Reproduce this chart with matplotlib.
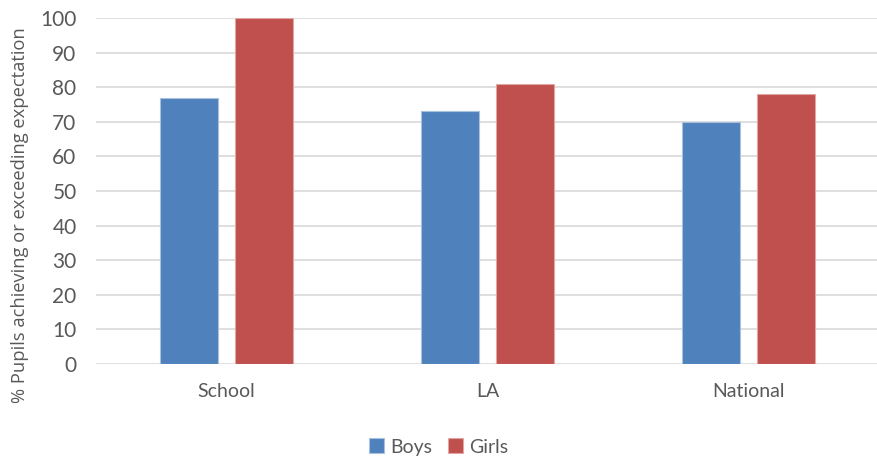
import matplotlib.pyplot as plt
import numpy as np

# Dades del gràfic
categories = ["School", "LA", "National"]
boys = [77, 73, 70]
girls = [100, 81, 78]
yticks = list(range(0, 101, 10))

plt.rcParams["font.family"] = ["Lato", "DejaVu Sans"]

fig = plt.figure(figsize=(8.77, 4.59), dpi=100)
ax = fig.add_axes([96 / 877, 1 - 364 / 459, 783 / 877, (364 - 18) / 459])

x = np.arange(len(categories))
w = 0.222
ax.bar(x - 0.142, boys, w, color="#4f81bd", edgecolor="#a9c0de", linewidth=0.8, label="Boys", zorder=3)
ax.bar(x + 0.142, girls, w, color="#c0504d", edgecolor="#e0a6a4", linewidth=0.8, label="Girls", zorder=3)

ax.set_xlim(-0.5, 2.5)
ax.set_ylim(0, 100)
ax.set_yticks(yticks)
ax.set_xticks(x)
ax.set_xticklabels(categories)
ax.grid(axis="y", color="#d9d9d9", linewidth=1.2, zorder=0)
ax.tick_params(axis="y", length=0, labelsize=15, colors="#595959", pad=14)
ax.tick_params(axis="x", length=0, labelsize=14, colors="#595959", pad=14)
for s in ax.spines.values():
    s.set_visible(False)

# Títol de l'eix Y, centrat com a l'original
fig.text(20 / 877, 1 - 215 / 459, "% Pupils achieving or exceeding expectation",
         rotation=90, ha="center", va="center", fontsize=13.2,
         family=["Open Sans", "DejaVu Sans"], color="#595959")

fig.legend(loc="center", bbox_to_anchor=(0.5, 1 - 447 / 459), ncol=2, frameon=False,
           fontsize=14, labelcolor="#595959", handlelength=0.8, handleheight=0.8,
           handletextpad=0.3, columnspacing=0.8)

fig.savefig("out.png", dpi=100)
